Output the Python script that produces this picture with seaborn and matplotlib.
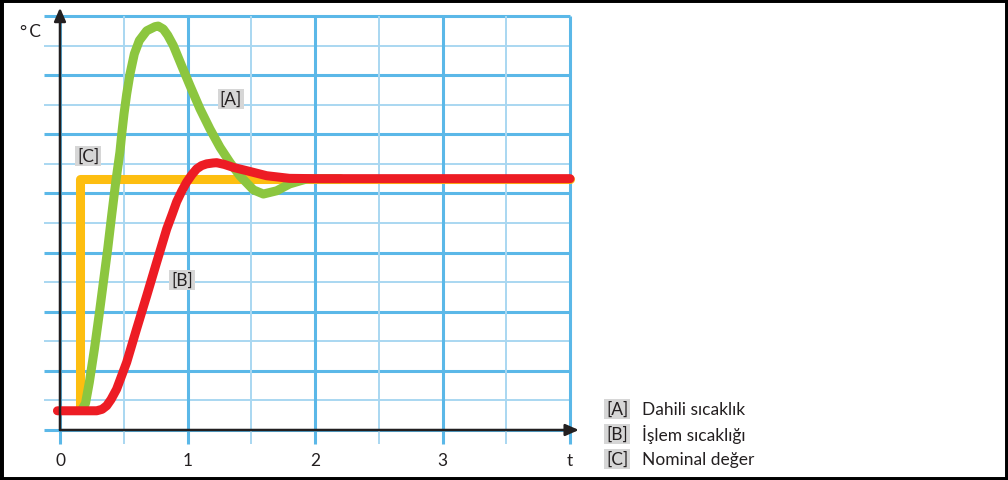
import numpy as np
import pandas as pd
import matplotlib
matplotlib.use("Agg")
import matplotlib.pyplot as plt
import seaborn as sns
from matplotlib.patches import Rectangle

# Datos (t en unidades del eje, temperatura en cuadros de rejilla)
t_A = [0.17, 0.20, 0.23, 0.27, 0.306, 0.34, 0.374, 0.405, 0.437, 0.47, 0.484, 0.502,
       0.523, 0.549, 0.583, 0.622, 0.68, 0.745, 0.77, 0.81, 0.845, 0.889, 0.954, 1.02,
       1.098, 1.176, 1.255, 1.333, 1.41, 1.517, 1.595, 1.70, 1.80, 1.935, 2.0, 2.2]
y_A = [0.68, 0.9, 1.61, 2.74, 3.87, 4.99, 6.12, 7.25, 8.38, 9.4, 10.0, 10.69,
       11.36, 12.04, 12.72, 13.17, 13.5, 13.64, 13.66, 13.56, 13.35, 13.0, 12.32, 11.64,
       10.86, 10.18, 9.56, 9.05, 8.6, 8.12, 7.98, 8.09, 8.32, 8.49, 8.5, 8.5]

t_B = [-0.02, 0.288, 0.33, 0.366, 0.40, 0.444, 0.523, 0.601, 0.68, 0.758, 0.837, 0.88,
       0.915, 0.955, 0.993, 1.035, 1.072, 1.11, 1.15, 1.2, 1.229, 1.29, 1.36, 1.464, 1.62,
       1.8, 2.0, 4.0]
y_B = [0.65, 0.65, 0.7, 0.82, 1.03, 1.38, 2.29, 3.42, 4.54, 5.67, 6.8, 7.3,
       7.72, 8.08, 8.38, 8.64, 8.83, 8.94, 9.0, 9.03, 9.04, 8.98, 8.88, 8.77, 8.6,
       8.51, 8.5, 8.5]

t_C = [0.16, 0.16, 4.0]
y_C = [0.68, 8.49, 8.49]

x_ticks = [0, 1, 2, 3]
etiquetas = ["[A]", "[B]", "[C]"]
leyenda = ["Dahili sıcaklık", "İşlem sıcaklığı", "Nominal değer"]

##########################################

sns.set_style("white")
plt.rcParams['font.family'] = ['Lato', 'DejaVu Sans']

fig = plt.figure(figsize=(10.08, 4.81), dpi=100)
ax = fig.add_axes([0, 0, 1, 1])
# escala: 127.5 px por unidad en x, 29.57 px por cuadro en y
ax.set_xlim(-60 / 127.5, (1008 - 60) / 127.5)
ax.set_ylim(-50 / 29.57, 431 / 29.57)
ax.axis('off')

# Rejilla
azul_fuerte = '#5bb8e8'
azul_claro = '#a9d7f1'
for k in range(15):
    ax.hlines(k, -0.125, 4.0, color=azul_fuerte if k % 2 == 0 else azul_claro,
              lw=2.2 if k % 2 == 0 else 1.4, zorder=1)
for k in np.arange(0, 4.01, 0.5):
    entero = float(k).is_integer()
    ax.vlines(k, -0.47, 14, color=azul_fuerte if entero else azul_claro,
              lw=2.2 if entero else 1.4, zorder=1)

# Curvas
df_C = pd.DataFrame({'t': t_C, 'y': y_C})
df_A = pd.DataFrame({'t': t_A, 'y': y_A})
df_B = pd.DataFrame({'t': t_B, 'y': y_B})
sns.lineplot(data=df_C, x='t', y='y', sort=False, estimator=None, color='#fdbe10',
             lw=6.5, solid_capstyle='round', solid_joinstyle='round', ax=ax, zorder=3)
sns.lineplot(data=df_A, x='t', y='y', sort=False, estimator=None, color='#8cc63f',
             lw=6.5, solid_capstyle='round', solid_joinstyle='round', ax=ax, zorder=4)
sns.lineplot(data=df_B, x='t', y='y', sort=False, estimator=None, color='#ed1c24',
             lw=6.5, solid_capstyle='round', solid_joinstyle='round', ax=ax, zorder=5)

# Ejes con flechas
ax.annotate('', xy=(4.07, 0), xytext=(0, 0), zorder=6,
            arrowprops=dict(arrowstyle='-|>,head_length=0.8,head_width=0.35', color='#231f20', lw=1.8,
                            shrinkA=0, shrinkB=0))
ax.annotate('', xy=(0, 14.28), xytext=(0, 0), zorder=6,
            arrowprops=dict(arrowstyle='-|>,head_length=0.8,head_width=0.35', color='#231f20', lw=1.8,
                            shrinkA=0, shrinkB=0))

# Textos
fs = 12.5
for v in x_ticks:
    ax.text(v, -1.0, str(v), ha='center', va='center', fontsize=fs, color='#231f20')
ax.text(4.0, -1.0, 't', ha='center', va='center', fontsize=fs, color='#231f20')
ax.text(-0.235, 13.5, '°\u2009C', ha='center', va='center', fontsize=fs, color='#231f20')

caja = dict(boxstyle='square,pad=0.12', fc='#d6d6d6', ec='none')
pos_etq = [(1.34, 11.2), (0.957, 5.07), (0.22, 9.27)]
for (px, py), e in zip(pos_etq, etiquetas):
    ax.text(px, py, e, ha='center', va='center', fontsize=fs, color='#231f20', bbox=caja, zorder=7)

filas = [0.71, -0.135, -0.98]
for fy, e, txt in zip(filas, etiquetas, leyenda):
    ax.text(4.37, fy, e, ha='center', va='center', fontsize=fs, color='#231f20', bbox=caja)
    ax.text(4.565, fy, txt, ha='left', va='center', fontsize=fs, color='#231f20')

# Marco
fig.patches.append(Rectangle((0, 0), 1, 1, transform=fig.transFigure, fill=False,
                             ec='black', lw=5, zorder=10))

plt.savefig('out.png', dpi=100)
